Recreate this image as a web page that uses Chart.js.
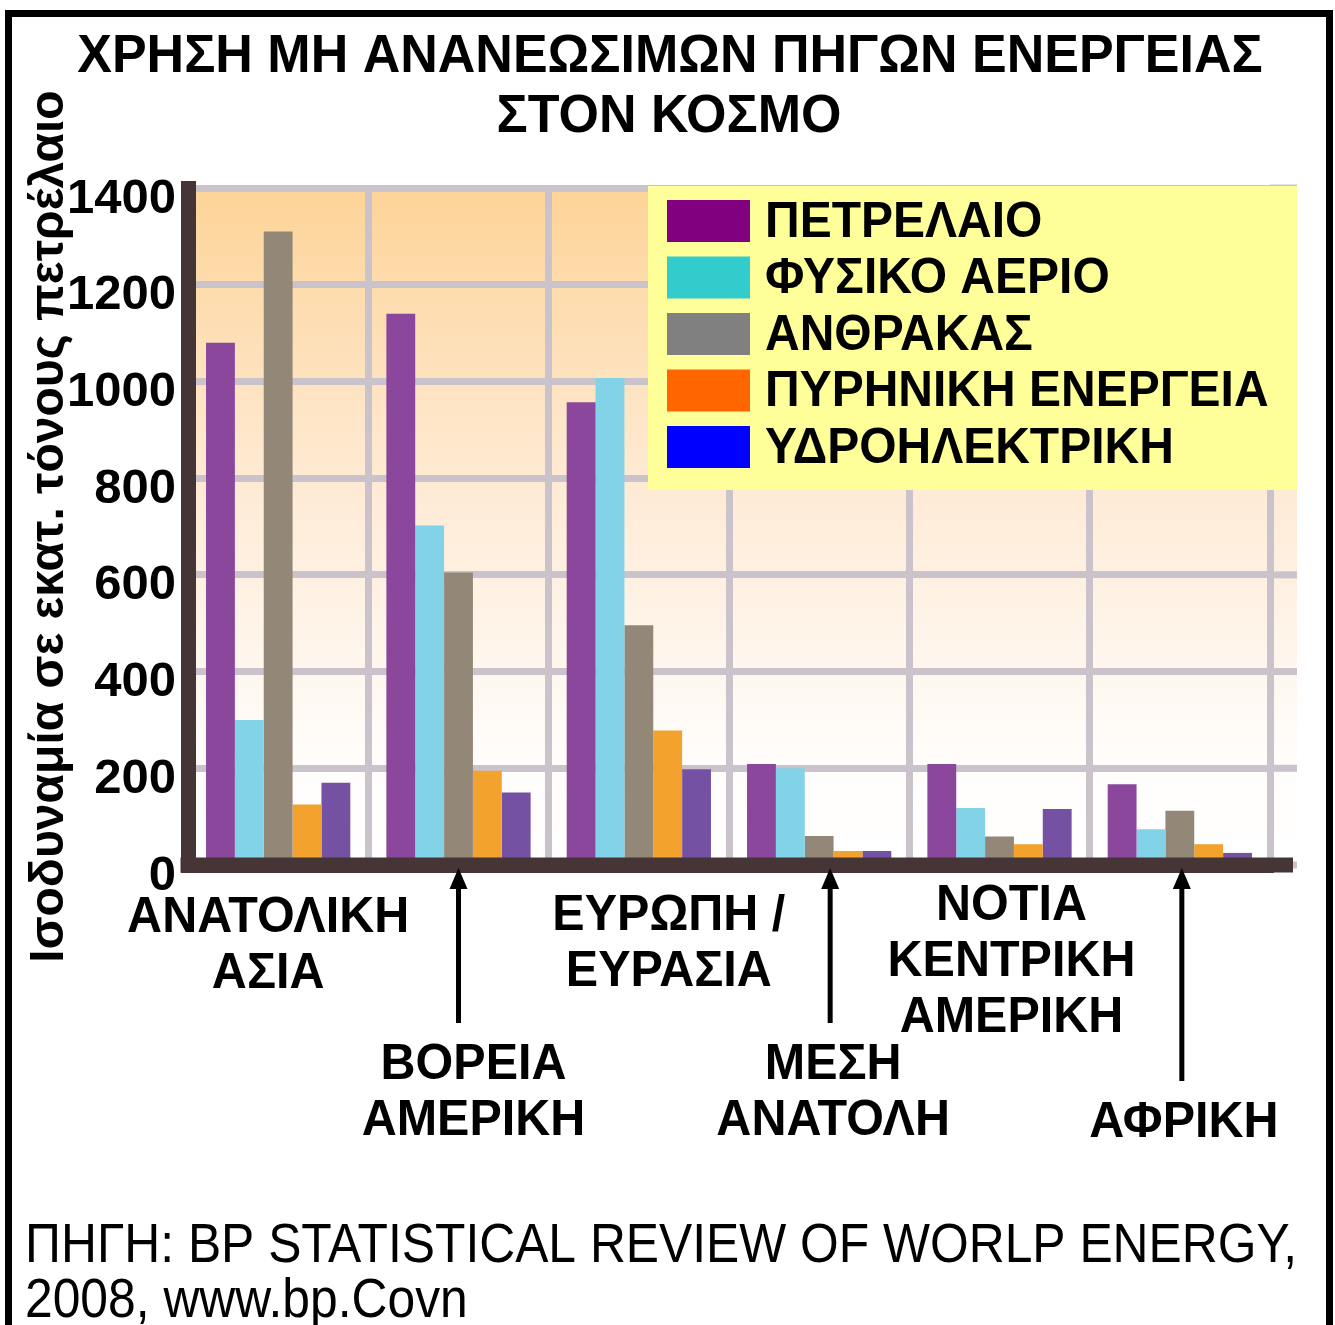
<!DOCTYPE html>
<html>
<head>
<meta charset="utf-8">
<script src="https://cdn.jsdelivr.net/npm/chart.js@4.4.1/dist/chart.umd.min.js"></script>
<style>
  html, body { margin: 0; padding: 0; background: #fff; }
  canvas { display: block; }
</style>
</head>
<body>
<canvas id="chart" width="1335" height="1325"></canvas>
<script>
// data
const regions = [
  ["ΑΝΑΤΟΛΙΚΗ", "ΑΣΙΑ"],
  ["ΒΟΡΕΙΑ", "ΑΜΕΡΙΚΗ"],
  ["ΕΥΡΩΠΗ /", "ΕΥΡΑΣΙΑ"],
  ["ΜΕΣΗ", "ΑΝΑΤΟΛΗ"],
  ["ΝΟΤΙΑ", "ΚΕΝΤΡΙΚΗ", "ΑΜΕΡΙΚΗ"],
  ["ΑΦΡΙΚΗ"]
];
const seriesNames = ["ΠΕΤΡΕΛΑΙΟ", "ΦΥΣΙΚΟ ΑΕΡΙΟ", "ΑΝΘΡΑΚΑΣ", "ΠΥΡΗΝΙΚΗ ΕΝΕΡΓΕΙΑ", "ΥΔΡΟΗΛΕΚΤΡΙΚΗ"];
const oil     = [1080, 1140,  957, 209, 209, 167];
const gas     = [ 300,  702, 1007, 200, 118,  74];
const coal    = [1310,  605,  496,  60,  59, 112];
const nuclear = [ 125,  195,  278,  29,  43,  43];
const hydro   = [ 170,  150,  198,  29, 116,  25];
const yTicks = [0, 200, 400, 600, 800, 1000, 1200, 1400];

const titleLines = ["ΧΡΗΣΗ ΜΗ ΑΝΑΝΕΩΣΙΜΩΝ ΠΗΓΩΝ ΕΝΕΡΓΕΙΑΣ", "ΣΤΟΝ ΚΟΣΜΟ"];
const yTitle = "Ισοδυναμία σε εκατ. τόνους πετρέλαιο";
const sourceLines = ["ΠΗΓΗ: BP STATISTICAL REVIEW OF WORLP ENERGY,", "2008, www.bp.Covn"];

// styles
const FONT = '"Liberation Sans", Arial, sans-serif';
const barColors = ["#8b479c", "#82d2e8", "#938878", "#f4a22e", "#7451a3"];
const legendColors = ["#800080", "#33cccc", "#808080", "#ff6600", "#0000ff"];
const gridColor = "#cbc3cb";
const axisColor = "#463537";
const plotRight = 1297;
const labelBaseline = [932, 1079, 930, 1079, 920, 1137];
const labelShift = [-10, 15, 30, 14, 12, 4];
const hasArrow = [false, true, false, true, false, true];
const arrowShift = [0, 0, 0, 11, 0, 2];

function squeezeText(ctx, text, x, y, sx, align) {
  ctx.save();
  ctx.translate(x, y);
  ctx.scale(sx, 1);
  ctx.textAlign = align || "center";
  ctx.fillText(text, 0, 0);
  ctx.restore();
}

const decor = {
  id: "decor",
  beforeDraw(chart) {
    const { ctx, chartArea: a } = chart;
    const g = ctx.createLinearGradient(0, a.top, 0, a.bottom);
    g.addColorStop(0, "#fdd498");
    g.addColorStop(0.45, "#feebd6");
    g.addColorStop(0.85, "#fffdfb");
    g.addColorStop(1, "#ffffff");
    ctx.fillStyle = g;
    ctx.fillRect(a.left, a.top, plotRight - a.left, a.bottom - a.top);
  },
  beforeDatasetsDraw(chart) {
    // horizontal grid goes a bit past the last category
    const { ctx, chartArea: a, scales: { y } } = chart;
    ctx.save();
    ctx.strokeStyle = gridColor;
    ctx.lineWidth = 7;
    yTicks.forEach(v => {
      const py = y.getPixelForValue(v);
      ctx.beginPath();
      ctx.moveTo(a.right, py);
      ctx.lineTo(plotRight, py);
      ctx.stroke();
    });
    ctx.restore();
  },
  afterDraw(chart) {
    const { ctx, chartArea: a, scales: { x } } = chart;
    ctx.save();

    // bottom axis band
    ctx.fillStyle = axisColor;
    ctx.fillRect(a.left - 7.5, a.bottom - 7.5, plotRight - 4 - a.left + 7.5, 15);

    // legend box
    ctx.fillStyle = "#ffff99";
    ctx.fillRect(648, 186, 649, 304);
    ctx.font = "bold 50px " + FONT;
    ctx.textBaseline = "middle";
    seriesNames.forEach((name, i) => {
      const cy = 221 + i * 56.5;
      ctx.fillStyle = legendColors[i];
      ctx.fillRect(667, cy - 21, 83, 42);
      ctx.fillStyle = "#000";
      squeezeText(ctx, name, 765, cy + 2, 0.96, "left");
    });

    // title
    ctx.textBaseline = "alphabetic";
    ctx.fillStyle = "#000";
    ctx.font = "bold 54px " + FONT;
    squeezeText(ctx, titleLines[0], 670, 72, 0.963);
    squeezeText(ctx, titleLines[1], 669, 132, 0.963);

    // category labels + arrows
    ctx.font = "bold 50px " + FONT;
    regions.forEach((lines, i) => {
      const px = x.getPixelForValue(i);
      lines.forEach((t, k) => squeezeText(ctx, t, px + labelShift[i], labelBaseline[i] + k * 56, 0.97));
      if (hasArrow[i]) {
        const ax = px + arrowShift[i];
        const end = labelBaseline[i] - 36 - 20;
        ctx.strokeStyle = "#000";
        ctx.lineWidth = 5;
        ctx.beginPath();
        ctx.moveTo(ax, end);
        ctx.lineTo(ax, a.bottom + 20);
        ctx.stroke();
        ctx.beginPath();
        ctx.moveTo(ax, a.bottom + 3);
        ctx.lineTo(ax - 9, a.bottom + 24);
        ctx.lineTo(ax + 9, a.bottom + 24);
        ctx.closePath();
        ctx.fill();
      }
    });

    // source
    ctx.font = '56px "Liberation Sans Narrow", ' + FONT;
    const sx = 1272 / ctx.measureText(sourceLines[0]).width;
    squeezeText(ctx, sourceLines[0], 25, 1262, sx, "left");
    squeezeText(ctx, sourceLines[1], 25, 1317, sx, "left");

    // outer frame
    ctx.strokeStyle = "#000";
    ctx.lineWidth = 7;
    ctx.beginPath();
    ctx.moveTo(8.5, 1330);
    ctx.lineTo(8.5, 13.5);
    ctx.lineTo(1329.5, 13.5);
    ctx.lineTo(1329.5, 1330);
    ctx.stroke();
    ctx.restore();
  }
};

const series = [oil, gas, coal, nuclear, hydro];

new Chart(document.getElementById("chart"), {
  type: "bar",
  data: {
    labels: regions,
    datasets: series.map((vals, i) => ({
      label: seriesNames[i],
      data: vals,
      backgroundColor: barColors[i],
      borderWidth: 0,
      categoryPercentage: 0.8,
      barPercentage: 1
    }))
  },
  options: {
    responsive: false,
    devicePixelRatio: 1,
    animation: false,
    layout: { padding: { top: 188, right: 65, left: 0, bottom: 0 } },
    plugins: {
      legend: { display: false },
      title: { display: false },
      tooltip: { enabled: false }
    },
    scales: {
      x: {
        ticks: { display: false },
        grid: { color: gridColor, lineWidth: 7, drawTicks: false },
        border: { color: axisColor, width: 15, z: 1 },
        afterFit(scale) { scale.height = 460; }
      },
      y: {
        min: 0,
        max: 1400,
        ticks: {
          stepSize: 200,
          color: "#000",
          padding: 12,
          labelOffset: 11,
          font: { family: FONT, size: 49, weight: "bold" },
          callback: v => String(v)
        },
        grid: { color: gridColor, lineWidth: 7, drawTicks: false },
        border: { color: axisColor, width: 15, z: 1 },
        title: {
          display: true,
          text: yTitle,
          color: "#000",
          padding: { top: 21, bottom: 0 },
          font: { family: FONT, size: 48, weight: "bold" }
        },
        afterFit(scale) { scale.width = 188; }
      }
    }
  },
  plugins: [decor]
});
</script>
</body>
</html>
